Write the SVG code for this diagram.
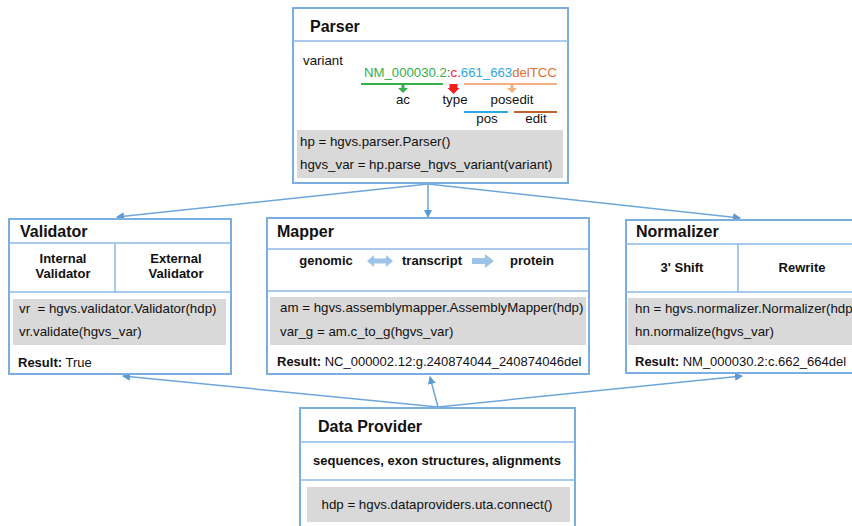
<svg xmlns="http://www.w3.org/2000/svg" width="852" height="526" viewBox="0 0 852 526">
<defs>
<style>
.box{fill:#fff;stroke:#7aaee0;stroke-width:2}
.div{stroke:#8db8e6;stroke-width:1.5;fill:none}
.code{fill:#d9d9d9}
.t{font-family:"Liberation Sans",Arial,sans-serif;fill:#111}
.title{font-size:16px;font-weight:bold}
.b{font-size:13px;font-weight:bold}
.n{font-size:13.3px}
.r{font-size:13px}
.conn{stroke:#6fa6dc;stroke-width:1.5;fill:none}
</style>
<marker id="ah" markerWidth="8" markerHeight="8" refX="7" refY="4" orient="auto" markerUnits="userSpaceOnUse">
<path d="M0,0 L8,4 L0,8 Z" fill="#5b9bd5"/>
</marker>
</defs>
<rect width="852" height="526" fill="#fff"/>

<g id="connectors">
<line class="conn" x1="428" y1="184" x2="117" y2="217" marker-end="url(#ah)"/>
<line class="conn" x1="428" y1="184" x2="428" y2="217" marker-end="url(#ah)"/>
<line class="conn" x1="428" y1="184" x2="740" y2="218" marker-end="url(#ah)"/>
<line class="conn" x1="438" y1="407" x2="123" y2="376" marker-end="url(#ah)"/>
<line class="conn" x1="438" y1="407" x2="430" y2="377" marker-end="url(#ah)"/>
<line class="conn" x1="438" y1="407" x2="742" y2="376" marker-end="url(#ah)"/>
</g>

<g id="parser">
<rect class="box" x="293" y="8" width="275" height="175"/>
<line class="div" x1="293" y1="41" x2="568" y2="41"/>
<text class="t title" x="310" y="32">Parser</text>
<text class="t n" x="303" y="65">variant</text>
<text class="t" x="364" y="77" font-size="13.2"><tspan fill="#33b04a">NM_000030.2</tspan><tspan fill="#555">:</tspan><tspan fill="#f02020">c</tspan><tspan fill="#555">.</tspan><tspan fill="#2ea8e0">661_663</tspan><tspan fill="#e0702c">delTCC</tspan></text>
<line x1="361" y1="84" x2="443" y2="84" stroke="#33b04a" stroke-width="2"/>
<path d="M401.5,85 h3 v3 h3.5 l-5,5 l-5,-5 h3.5 z" fill="#33b04a"/>
<path d="M449.5,84 h8 v4 h2 l-6,6 l-6,-6 h2 z" fill="#f02020"/>
<line x1="464" y1="84" x2="557" y2="84" stroke="#f4b183" stroke-width="2"/>
<path d="M510.5,85 h3 v3 h3.5 l-5,5 l-5,-5 h3.5 z" fill="#f4b183"/>
<text class="t n" x="403" y="104" text-anchor="middle">ac</text>
<text class="t n" x="455" y="104" text-anchor="middle">type</text>
<text class="t n" x="512" y="104" text-anchor="middle">posedit</text>
<line x1="464" y1="112" x2="508" y2="112" stroke="#2ea8e0" stroke-width="2"/>
<line x1="514" y1="112" x2="557" y2="112" stroke="#c0602a" stroke-width="2"/>
<text class="t n" x="487" y="123" text-anchor="middle">pos</text>
<text class="t n" x="536" y="123" text-anchor="middle">edit</text>
<rect class="code" x="297" y="130" width="266" height="48"/>
<text class="t n" x="300" y="146">hp = hgvs.parser.Parser()</text>
<text class="t n" x="300" y="169">hgvs_var = hp.parse_hgvs_variant(variant)</text>
</g>

<g id="validator">
<rect class="box" x="9" y="219" width="222" height="155"/>
<line class="div" x1="9" y1="243" x2="231" y2="243"/>
<line class="div" x1="9" y1="292" x2="231" y2="292"/>
<line class="div" x1="115" y1="243" x2="115" y2="292"/>
<text class="t title" x="20" y="237">Validator</text>
<text class="t b" x="63" y="263" text-anchor="middle">Internal</text>
<text class="t b" x="63" y="278" text-anchor="middle">Validator</text>
<text class="t b" x="176" y="263" text-anchor="middle">External</text>
<text class="t b" x="176" y="278" text-anchor="middle">Validator</text>
<rect class="code" x="13" y="299" width="213" height="46"/>
<text class="t n" x="19" y="313" xml:space="preserve">vr  = hgvs.validator.Validator(hdp)</text>
<text class="t n" x="19" y="336">vr.validate(hgvs_var)</text>
<text class="t r" x="18" y="367"><tspan font-weight="bold">Result:</tspan> True</text>
</g>

<g id="mapper">
<rect class="box" x="267" y="218" width="322" height="156"/>
<line class="div" x1="267" y1="249" x2="589" y2="249"/>
<line class="div" x1="267" y1="291" x2="589" y2="291"/>
<text class="t title" x="277" y="237">Mapper</text>
<text class="t b" x="326" y="265" text-anchor="middle">genomic</text>
<text class="t b" x="432" y="265" text-anchor="middle">transcript</text>
<text class="t b" x="532" y="265" text-anchor="middle">protein</text>
<path d="M367,261 l7,-6 v3.5 h12 v-3.5 l7,6 l-7,6 v-3.5 h-12 v3.5 z" fill="#9dc3e6"/>
<path d="M472,258 h13 v-4 l9,7 l-9,7 v-4 h-13 z" fill="#9dc3e6"/>
<rect class="code" x="270" y="297" width="316" height="48"/>
<text class="t n" x="280" y="312">am = hgvs.assemblymapper.AssemblyMapper(hdp)</text>
<text class="t n" x="280" y="336">var_g = am.c_to_g(hgvs_var)</text>
<text class="t r" x="277" y="366"><tspan font-weight="bold">Result:</tspan> NC_000002.12:g.240874044_240874046del</text>
</g>

<g id="normalizer">
<rect class="box" x="626" y="220" width="240" height="153"/>
<line class="div" x1="626" y1="244" x2="852" y2="244"/>
<line class="div" x1="626" y1="292" x2="852" y2="292"/>
<line class="div" x1="738" y1="244" x2="738" y2="292"/>
<text class="t title" x="636" y="237">Normalizer</text>
<text class="t b" x="682" y="272" text-anchor="middle">3' Shift</text>
<text class="t b" x="802" y="272" text-anchor="middle">Rewrite</text>
<rect class="code" x="628" y="298" width="230" height="47"/>
<text class="t n" x="635" y="313">hn = hgvs.normalizer.Normalizer(hdp)</text>
<text class="t n" x="635" y="336">hn.normalize(hgvs_var)</text>
<text class="t r" x="635" y="366"><tspan font-weight="bold">Result:</tspan> NM_000030.2:c.662_664del</text>
</g>

<g id="dataprovider">
<rect class="box" x="300" y="408" width="275" height="130"/>
<line class="div" x1="300" y1="442" x2="575" y2="442"/>
<line class="div" x1="300" y1="480" x2="575" y2="480"/>
<text class="t title" x="318" y="432">Data Provider</text>
<text class="t b" x="437" y="465" text-anchor="middle">sequences, exon structures, alignments</text>
<rect class="code" x="307" y="487" width="263" height="35"/>
<text class="t n" x="437" y="509" text-anchor="middle">hdp = hgvs.dataproviders.uta.connect()</text>
</g>
</svg>
